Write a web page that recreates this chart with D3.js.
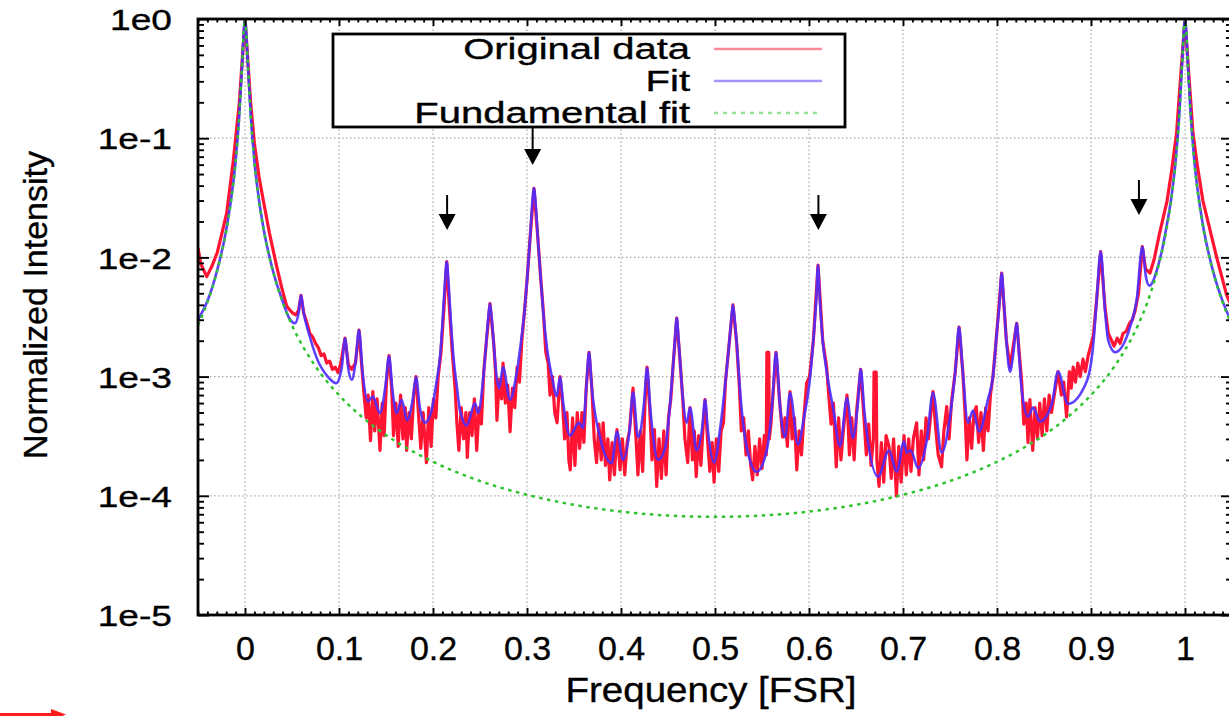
<!DOCTYPE html>
<meta charset="utf-8">
<head>
<title>FSR spectrum fit</title>
<script src="https://cdn.jsdelivr.net/npm/d3@7"></script>
<style>
body { margin: 0; background: #fff; }
text { font-family: "Liberation Sans", Arial, Helvetica, sans-serif; fill: #000; stroke: #000; stroke-width: 0.35; }
</style>
</head>
<body>

<div id="chart"></div>

<script>

const width = 1229;
const height = 716;
const plotLeft = 198, plotRight = 1232, plotTop = 19, plotBottom = 615;

// axis ticks
const xTickValues = [0, 0.1, 0.2, 0.3, 0.4, 0.5, 0.6, 0.7, 0.8, 0.9, 1];
const xTickLabels = ["0", "0.1", "0.2", "0.3", "0.4", "0.5", "0.6", "0.7", "0.8", "0.9", "1"];
const yTickValues = [1e-5, 1e-4, 1e-3, 1e-2, 1e-1, 1];
const yTickLabels = ["1e-5", "1e-4", "1e-3", "1e-2", "1e-1", "1e0"];

const seriesNames = ["Original data", "Fit", "Fundamental fit"];
const seriesColors = ["#ff1432", "#4b2cff", "#2fc42f"];

// [frequency (FSR), normalized intensity]
const originalData = [
  [-0.05, 0.012], [-0.047, 8.8e-3], [-0.0407, 6.9e-3], [-0.035, 8.5e-3], [-0.0295, 0.011],
  [-0.0245, 0.016], [-0.0195, 0.0235], [-0.0124, 0.065], [-0.006, 0.2], [-0.003, 0.45],
  [0, 1.0], [0.003, 0.45], [0.006, 0.2], [0.01, 0.09], [0.015, 0.047], [0.0195, 0.030],
  [0.026, 0.016], [0.0337, 8.4e-3], [0.039, 5.6e-3], [0.0443, 3.9e-3], [0.048, 3.6e-3],
  [0.051, 3.4e-3], [0.054, 3.3e-3], [0.057, 3.6e-3], [0.0596, 4.8e-3], [0.0625, 3.4e-3],
  [0.066, 2.8e-3], [0.069, 2.3e-3], [0.072, 2.15e-3], [0.075, 1.9e-3], [0.078, 1.75e-3],
  [0.081, 1.5e-3], [0.084, 1.55e-3], [0.087, 1.3e-3], [0.09, 1.35e-3], [0.093, 1.15e-3],
  [0.096, 1.2e-3], [0.099, 1.08e-3], [0.102, 1.3e-3], [0.1064, 2.1e-3], [0.11, 1.25e-3],
  [0.1135, 1.15e-3], [0.1175, 1.3e-3], [0.1213, 2.45e-3], [0.1245, 1.15e-3],
  [0.1265, 7.3e-4], [0.129, 4.5e-4], [0.131, 7.0e-4], [0.1335, 2.9e-4], [0.136, 7.5e-4],
  [0.138, 3.5e-4], [0.1405, 6.5e-4], [0.1436, 2.4e-4], [0.146, 6.0e-4], [0.148, 3.2e-4],
  [0.1505, 9.0e-4], [0.1532, 1.5e-3], [0.156, 8.0e-4], [0.158, 3.2e-4], [0.1605, 6.0e-4],
  [0.163, 2.6e-4], [0.1655, 7.0e-4], [0.168, 3.0e-4], [0.1705, 5.5e-4], [0.172, 2.4e-4],
  [0.1745, 5.0e-4], [0.177, 3.0e-4], [0.1795, 7.0e-4], [0.1819, 1.0e-3], [0.1845, 5.0e-4],
  [0.187, 2.5e-4], [0.1895, 5.0e-4], [0.193, 1.9e-4], [0.1955, 5.5e-4], [0.198, 2.6e-4],
  [0.2005, 6.5e-4], [0.203, 4.5e-4], [0.2055, 1.0e-3], [0.2085, 1.6e-3], [0.2115, 3.6e-3],
  [0.2146, 9.2e-3], [0.2176, 3.6e-3], [0.2205, 1.6e-3], [0.2235, 8.0e-4],
  [0.2255, 4.0e-4], [0.2275, 2.4e-4], [0.23, 5.5e-4], [0.2325, 3.0e-4], [0.235, 5.0e-4],
  [0.2365, 2.1e-4], [0.239, 5.0e-4], [0.2415, 3.2e-4], [0.244, 6.5e-4], [0.2465, 2.4e-4],
  [0.249, 5.5e-4], [0.2515, 4.0e-4], [0.254, 1.1e-3], [0.2566, 1.9e-3], [0.2606, 4.1e-3],
  [0.2646, 1.9e-3], [0.2665, 1.1e-3], [0.268, 4.3e-4], [0.2705, 9.5e-4], [0.273, 6.5e-4],
  [0.2745, 1.3e-3], [0.277, 6.0e-4], [0.2795, 8.5e-4], [0.282, 3.45e-4], [0.2845, 8.0e-4],
  [0.287, 5.5e-4], [0.2895, 1.2e-3], [0.292, 9.0e-4], [0.2945, 2.0e-3], [0.2974, 3.6e-3],
  [0.3004, 7.0e-3], [0.3034, 0.015], [0.3074, 0.038], [0.3114, 0.015], [0.3144, 7.0e-3],
  [0.3174, 3.5e-3], [0.32, 1.6e-3], [0.3225, 1.3e-3],
  [0.3245, 7.0e-4], [0.327, 1.0e-3], [0.3295, 5.0e-4], [0.332, 4.1e-4], [0.3351, 1.0e-3],
  [0.3375, 6.5e-4], [0.34, 3.0e-4], [0.3425, 5.0e-4], [0.3445, 2.0e-4], [0.346, 1.65e-4],
  [0.3485, 4.5e-4], [0.351, 1.8e-4], [0.3535, 5.0e-4], [0.356, 2.5e-4], [0.3585, 5.0e-4],
  [0.3605, 2.8e-4], [0.363, 8.0e-4], [0.366, 1.6e-3], [0.369, 8.0e-4],
  [0.3715, 3.0e-4], [0.374, 1.9e-4], [0.3765, 4.0e-4], [0.379, 2.0e-4], [0.381, 4.1e-4],
  [0.3835, 1.8e-4], [0.386, 3.0e-4], [0.388, 1.36e-4], [0.3905, 2.8e-4], [0.393, 1.5e-4],
  [0.3957, 3.6e-4], [0.399, 1.65e-4], [0.4015, 3.0e-4], [0.404, 1.5e-4], [0.4065, 2.8e-4],
  [0.409, 3.5e-4], [0.4128, 8.0e-4], [0.416, 3.0e-4], [0.418, 1.5e-4], [0.4205, 3.5e-4],
  [0.423, 1.6e-4], [0.4255, 6.0e-4], [0.4277, 1.2e-3], [0.4305, 5.5e-4], [0.433, 2.0e-4],
  [0.4355, 3.6e-4], [0.438, 1.2e-4], [0.4405, 3.0e-4], [0.443, 1.4e-4], [0.4455, 3.5e-4],
  [0.448, 1.5e-4], [0.4505, 4.5e-4], [0.453, 6.5e-4], [0.4553, 1.2e-3], [0.4593, 3.1e-3],
  [0.4633, 1.2e-3], [0.466, 6.0e-4],
  [0.468, 3.0e-4], [0.471, 1.9e-4], [0.4734, 5.5e-4], [0.476, 2.0e-4], [0.478, 3.5e-4],
  [0.48, 1.45e-4], [0.4825, 3.2e-4], [0.485, 1.8e-4], [0.4875, 4.0e-4], [0.4894, 6.4e-4],
  [0.492, 3.0e-4], [0.4945, 1.6e-4], [0.497, 2.8e-4], [0.499, 1.3e-4],
  [0.5015, 3.0e-4], [0.504, 1.6e-4], [0.5065, 3.5e-4], [0.509, 4.1e-4], [0.5111, 9.0e-4],
  [0.5151, 1.9e-3], [0.5191, 4.0e-3], [0.5231, 1.9e-3], [0.526, 8.0e-4], [0.528, 3.5e-4],
  [0.5305, 4.5e-4], [0.533, 2.2e-4], [0.5355, 3.5e-4], [0.538, 1.8e-4], [0.54, 1.36e-4],
  [0.5425, 2.6e-4], [0.545, 1.5e-4], [0.5475, 3.0e-4], [0.55, 1.7e-4], [0.5525, 3.2e-4],
  [0.5545, 2.2e-4], [0.5552, 1.6e-3], [0.5572, 1.6e-3], [0.5578, 3.0e-4], [0.5595, 4.0e-4],
  [0.5649, 1.6e-3], [0.5689, 6.0e-4],
  [0.572, 3.1e-4], [0.5745, 4.5e-4], [0.577, 2.6e-4], [0.5798, 7.5e-4], [0.582, 3.0e-4],
  [0.5845, 4.5e-4], [0.587, 1.65e-4], [0.5895, 3.5e-4], [0.592, 2.2e-4], [0.5945, 4.5e-4],
  [0.5975, 8.8e-4], [0.6006, 1.0e-3], [0.6046, 2.0e-3], [0.6096, 8.6e-3], [0.6146, 2.0e-3],
  [0.6188, 1.2e-3], [0.621, 7.0e-4],
  [0.6235, 4.0e-4], [0.626, 6.0e-4], [0.629, 1.75e-4], [0.6315, 4.5e-4], [0.634, 2.0e-4],
  [0.6365, 3.5e-4], [0.6404, 7.0e-4], [0.643, 2.2e-4], [0.6455, 4.5e-4], [0.648, 2.0e-4],
  [0.6505, 5.0e-4], [0.655, 1.15e-3], [0.6585, 4.5e-4], [0.661, 2.2e-4], [0.6635, 4.0e-4],
  [0.666, 1.8e-4],
  [0.6685, 3.0e-4], [0.6692, 1.09e-3], [0.6715, 1.09e-3], [0.6722, 2.0e-4], [0.6745, 1.2e-4],
  [0.677, 2.8e-4], [0.6795, 1.3e-4], [0.682, 3.2e-4], [0.6851, 2.6e-4], [0.6875, 1.4e-4],
  [0.69, 3.0e-4], [0.693, 1.0e-4], [0.6955, 2.6e-4], [0.698, 1.3e-4], [0.7011, 3.2e-4],
  [0.7035, 1.5e-4], [0.706, 3.0e-4], [0.7085, 1.6e-4], [0.711, 3.0e-4], [0.7145, 4.1e-4],
  [0.717, 1.5e-4], [0.7195, 3.5e-4], [0.722, 2.0e-4], [0.7245, 4.5e-4], [0.727, 3.0e-4],
  [0.7319, 7.5e-4], [0.735, 3.5e-4],
  [0.7375, 2.2e-4], [0.741, 1.75e-4], [0.7435, 3.5e-4], [0.7465, 5.6e-4], [0.749, 3.0e-4],
  [0.7515, 6.0e-4], [0.7556, 1.1e-3], [0.7596, 2.6e-3], [0.7636, 1.1e-3], [0.766, 5.0e-4],
  [0.768, 2.0e-4], [0.7705, 4.5e-4], [0.773, 2.5e-4], [0.7755, 5.0e-4], [0.778, 5.6e-4],
  [0.7805, 2.8e-4], [0.783, 5.0e-4], [0.7855, 2.4e-4], [0.788, 5.5e-4], [0.7905, 3.5e-4],
  [0.793, 7.0e-4], [0.7957, 1.0e-3], [0.7997, 2.3e-3], [0.805, 7.4e-3], [0.81, 2.0e-3],
  [0.8138, 1.2e-3], [0.821, 2.8e-3], [0.8263, 9.0e-4],
  [0.8285, 4.0e-4], [0.831, 6.0e-4], [0.833, 2.8e-4], [0.835, 6.4e-4], [0.838, 2.4e-4],
  [0.8405, 5.5e-4], [0.843, 3.0e-4], [0.8455, 6.0e-4], [0.848, 3.2e-4], [0.8505, 6.5e-4],
  [0.853, 3.5e-4], [0.8555, 7.0e-4], [0.858, 5.0e-4], [0.8649, 1.1e-3],
  [0.8685, 7.0e-4], [0.871, 9.0e-4], [0.874, 4.6e-4], [0.877, 1.1e-3], [0.879, 8.0e-4],
  [0.881, 1.2e-3], [0.8835, 9.0e-4], [0.886, 1.3e-3], [0.8885, 1.0e-3], [0.8915, 1.4e-3],
  [0.894, 1.1e-3], [0.897, 1.5e-3], [0.9025, 2.2e-3], [0.906, 4.4e-3], [0.9103, 1.12e-2],
  [0.9149, 3.8e-3], [0.9184, 2.3e-3],
  [0.922, 2.0e-3], [0.9245, 1.8e-3], [0.928, 2.1e-3], [0.931, 1.9e-3], [0.934, 2.3e-3],
  [0.9375, 2.4e-3], [0.941, 2.8e-3], [0.944, 3.0e-3], [0.947, 3.6e-3], [0.9505, 5.0e-3],
  [0.9546, 1.23e-2], [0.958, 8.0e-3], [0.9628, 7.4e-3], [0.967, 9.5e-3], [0.973, 0.016],
  [0.981, 0.030], [0.986, 0.055], [0.991, 0.11], [0.995, 0.3], [1.0, 1.0], [1.004, 0.35],
  [1.0085, 0.11], [1.013, 0.06], [1.019, 0.03], [1.0266, 0.017], [1.0337, 0.01],
  [1.0444, 4.8e-3], [1.05, 3.8e-3]
];

const fitData = [
  [-0.05, 3.0e-3], [-0.04, 4.3e-3], [-0.03, 7.6e-3], [-0.02, 0.017], [-0.015, 0.03],
  [-0.01, 0.064], [-0.006, 0.16], [-0.003, 0.42], [0, 1.0], [0.003, 0.42], [0.006, 0.16],
  [0.01, 0.064], [0.015, 0.03], [0.02, 0.017], [0.03, 7.6e-3], [0.04, 4.3e-3],
  [0.047, 3.1e-3], [0.053, 2.8e-3], [0.057, 3.4e-3], [0.0596, 4.8e-3], [0.0625, 3.4e-3],
  [0.068, 2.3e-3], [0.076, 1.45e-3], [0.088, 1.0e-3], [0.097, 8.8e-4], [0.103, 1.2e-3],
  [0.1064, 2.1e-3], [0.11, 1.15e-3], [0.1135, 9.4e-4], [0.1175, 1.3e-3], [0.1213, 2.46e-3],
  [0.125, 1.1e-3], [0.1309, 6.2e-4], [0.1359, 6.8e-4], [0.1436, 4.95e-4], [0.1495, 8.5e-4],
  [0.1532, 1.49e-3], [0.157, 7.5e-4], [0.1614, 4.95e-4], [0.1667, 6.4e-4], [0.1723, 4.3e-4],
  [0.1785, 6.5e-4], [0.1819, 9.9e-4], [0.186, 5.5e-4], [0.1915, 4.1e-4], [0.1985, 5.2e-4],
  [0.2035, 8.8e-4], [0.2076, 1.5e-3], [0.2106, 3.3e-3], [0.2126, 6.0e-3], [0.2146, 9.2e-3],
  [0.2166, 6.0e-3], [0.2186, 3.3e-3], [0.2216, 1.5e-3], [0.2256, 8.0e-4], [0.2287, 5.2e-4],
  [0.2359, 3.9e-4], [0.2447, 6.0e-4], [0.2479, 4.95e-4], [0.2536, 1.0e-3], [0.2566, 1.9e-3],
  [0.2586, 3.0e-3], [0.2606, 4.1e-3], [0.2626, 3.0e-3], [0.2646, 1.9e-3], [0.2676, 1.0e-3],
  [0.2705, 8.0e-4], [0.2745, 1.2e-3], [0.2819, 6.4e-4], [0.2884, 1.0e-3], [0.2934, 1.9e-3],
  [0.2974, 3.6e-3], [0.3004, 7.0e-3], [0.3034, 0.015], [0.3054, 0.027], [0.3074, 0.038],
  [0.3094, 0.027], [0.3114, 0.015], [0.3144, 7.0e-3], [0.3174, 3.4e-3], [0.3214, 1.7e-3],
  [0.327, 9.5e-4], [0.3316, 6.8e-4], [0.3351, 9.9e-4], [0.3385, 6.0e-4], [0.3457, 3.2e-4],
  [0.3553, 4.1e-4], [0.3596, 3.7e-4], [0.363, 8.0e-4], [0.366, 1.6e-3], [0.369, 8.0e-4],
  [0.3777, 3.1e-4], [0.3901, 1.88e-4], [0.3957, 3.45e-4], [0.4021, 2.0e-4], [0.4095, 3.8e-4],
  [0.4128, 7.4e-4], [0.4181, 3.1e-4], [0.4245, 6.0e-4], [0.4277, 1.18e-3], [0.4315, 5.0e-4],
  [0.4394, 2.0e-4], [0.4468, 2.5e-4], [0.4523, 6.0e-4], [0.4553, 1.2e-3], [0.4573, 2.0e-3],
  [0.4593, 3.1e-3], [0.4613, 2.0e-3], [0.4633, 1.2e-3], [0.4663, 6.0e-4], [0.4699, 4.1e-4],
  [0.4734, 5.5e-4], [0.4805, 2.4e-4], [0.4865, 3.8e-4], [0.4894, 6.4e-4], [0.4925, 3.5e-4],
  [0.4989, 1.9e-4], [0.5061, 4.0e-4], [0.5111, 9.0e-4], [0.5151, 1.9e-3], [0.5171, 2.9e-3],
  [0.5191, 4.0e-3], [0.5211, 2.9e-3], [0.5231, 1.9e-3], [0.527, 7.0e-4], [0.534, 2.5e-4],
  [0.5444, 1.59e-4], [0.555, 2.4e-4], [0.5609, 6.0e-4], [0.5649, 1.6e-3], [0.5689, 6.0e-4],
  [0.5745, 3.1e-4], [0.5798, 7.3e-4], [0.5883, 2.7e-4], [0.5946, 4.5e-4], [0.6006, 9.0e-4],
  [0.6046, 2.0e-3], [0.6076, 4.3e-3], [0.6096, 8.6e-3], [0.6116, 4.3e-3], [0.6146, 2.0e-3],
  [0.6188, 1.1e-3], [0.6255, 5.5e-4], [0.633, 2.6e-4], [0.6404, 6.6e-4], [0.6468, 3.05e-4],
  [0.652, 6.0e-4], [0.655, 1.15e-3], [0.659, 5.0e-4], [0.6734, 1.45e-4], [0.6851, 2.4e-4],
  [0.6933, 1.59e-4], [0.7011, 2.85e-4], [0.7039, 2.3e-4], [0.7082, 2.4e-4], [0.716, 1.71e-4],
  [0.7255, 3.0e-4], [0.7319, 7.3e-4], [0.7412, 2.3e-4], [0.7506, 5.0e-4], [0.7556, 1.1e-3],
  [0.7596, 2.6e-3], [0.7636, 1.1e-3], [0.7691, 4.1e-4], [0.7745, 5.2e-4], [0.7808, 3.45e-4],
  [0.7905, 6.5e-4], [0.7957, 1.0e-3], [0.7997, 2.3e-3], [0.8025, 4.0e-3], [0.805, 7.4e-3],
  [0.8075, 4.0e-3], [0.81, 2.0e-3], [0.8138, 1.1e-3], [0.8175, 1.6e-3], [0.821, 2.8e-3],
  [0.8235, 1.5e-3], [0.8263, 7.7e-4], [0.833, 4.6e-4], [0.8383, 5.5e-4], [0.8457, 4.2e-4],
  [0.8585, 6.0e-4], [0.8649, 1.1e-3], [0.8755, 5.9e-4], [0.8954, 9.1e-4], [0.9025, 1.9e-3],
  [0.906, 4.4e-3], [0.9103, 1.12e-2], [0.9149, 3.6e-3], [0.9184, 2.0e-3], [0.9255, 1.6e-3],
  [0.9415, 2.6e-3], [0.9486, 4.4e-3], [0.9546, 1.23e-2], [0.9585, 6.8e-3], [0.962, 5.8e-3],
  [0.966, 6.3e-3], [0.97, 7.8e-3], [0.975, 0.011], [0.98, 0.0175], [0.985, 0.03],
  [0.99, 0.064], [0.994, 0.16], [0.997, 0.43], [1.0, 1.0], [1.003, 0.42], [1.006, 0.16],
  [1.01, 0.064], [1.015, 0.03], [1.02, 0.017], [1.03, 7.6e-3], [1.04, 4.3e-3], [1.05, 2.8e-3]
];

const fundamentalFit = [
  [-0.05, 2.7e-3], [-0.04, 4.2e-3], [-0.03, 7.5e-3], [-0.02, 0.0166], [-0.015, 0.029],
  [-0.01, 0.063], [-0.006, 0.158], [-0.003, 0.43], [0, 1.0], [0.003, 0.43], [0.006, 0.158],
  [0.01, 0.063], [0.015, 0.029], [0.02, 0.0166], [0.03, 7.5e-3], [0.04, 4.2e-3],
  [0.05, 2.7e-3], [0.075, 1.22e-3], [0.1, 7.0e-4], [0.125, 4.55e-4], [0.15, 3.23e-4],
  [0.175, 2.44e-4], [0.2, 1.93e-4], [0.25, 1.33e-4], [0.3, 1.02e-4], [0.35, 8.4e-5],
  [0.4, 7.37e-5], [0.45, 6.83e-5], [0.5, 6.67e-5], [0.55, 6.83e-5], [0.6, 7.37e-5],
  [0.65, 8.4e-5], [0.7, 1.02e-4], [0.75, 1.33e-4], [0.8, 1.93e-4], [0.825, 2.44e-4],
  [0.85, 3.23e-4], [0.875, 4.55e-4], [0.9, 7.0e-4], [0.925, 1.22e-3], [0.95, 2.7e-3],
  [0.96, 4.2e-3], [0.97, 7.5e-3], [0.98, 0.0166], [0.985, 0.029], [0.99, 0.063],
  [0.994, 0.158], [0.997, 0.43], [1.0, 1.0], [1.003, 0.43], [1.006, 0.158], [1.01, 0.063],
  [1.015, 0.029], [1.02, 0.0166], [1.03, 7.5e-3], [1.04, 4.2e-3], [1.05, 2.7e-3]
];

// marked peaks: frequency, arrow tail and tip intensity
const arrowFreq = [0.215, 0.306, 0.61, 0.951];
const arrowTail = [0.0334, 0.122, 0.0334, 0.0446];
const arrowTip = [0.017, 0.0596, 0.017, 0.0227];


const svg = d3.select("#chart")
  .append("svg")
  .attr("width", width)
  .attr("height", height)
  .attr("viewBox", [0, 0, width, height])
  .style("display", "block");

svg.append("rect").attr("width", width).attr("height", height).attr("fill", "#fff");

const x = d3.scaleLinear().domain([-0.05, 1.05]).range([plotLeft, plotRight]);
const y = d3.scaleLog().domain([1e-5, 1]).range([plotBottom, plotTop]);

svg.append("clipPath").attr("id", "plotclip")
  .append("rect")
  .attr("x", plotLeft).attr("y", plotTop)
  .attr("width", plotRight - plotLeft).attr("height", plotBottom - plotTop);

// grid
const gridX = svg.append("g")
  .attr("stroke", "#a9a9a9").attr("stroke-width", 1.2).attr("stroke-dasharray", "1.5,2.5");
gridX.selectAll("line")
  .data(xTickValues)
  .join("line")
    .attr("x1", d => x(d)).attr("x2", d => x(d))
    .attr("y1", plotBottom).attr("y2", plotTop);

const gridY = svg.append("g")
  .attr("stroke", "#a9a9a9").attr("stroke-width", 1.2).attr("stroke-dasharray", "1.5,2.5");
gridY.selectAll("line")
  .data(yTickValues.slice(1, -1))
  .join("line")
    .attr("x1", plotLeft).attr("x2", plotRight)
    .attr("y1", d => y(d)).attr("y2", d => y(d));

// curves
const rawLine = d3.line().x(d => x(d[0])).y(d => y(d[1]));
const smoothLine = d3.line().x(d => x(d[0])).y(d => y(d[1])).curve(d3.curveMonotoneX);

const curves = svg.append("g").attr("clip-path", "url(#plotclip)").attr("fill", "none");

curves.append("path")
  .datum(originalData)
  .attr("d", rawLine)
  .attr("stroke", seriesColors[0])
  .attr("stroke-width", 3.2)
  .attr("stroke-linejoin", "round");

curves.append("path")
  .datum(fitData)
  .attr("d", smoothLine)
  .attr("stroke", seriesColors[1])
  .attr("stroke-opacity", 0.9)
  .attr("stroke-width", 2.6);

curves.append("path")
  .datum(fundamentalFit)
  .attr("d", smoothLine)
  .attr("stroke", seriesColors[2])
  .attr("stroke-width", 2.5)
  .attr("stroke-dasharray", "3.5,4.5");

// axes, ticks pointing inward
const xMinor = x.ticks(110).filter(t => !xTickValues.some(v => Math.abs(v - t) < 1e-6));
const yMinor = y.ticks().filter(t => !yTickValues.some(v => Math.abs(v - t) / v < 1e-6));

function cleanAxis(g) {
  g.select(".domain").remove();
  g.attr("font-size", null).attr("font-family", null);
  g.selectAll("line").attr("stroke", "#000").attr("stroke-width", 1.9);
}

svg.append("g")
  .attr("transform", `translate(0,${plotBottom})`)
  .call(d3.axisBottom(x).tickValues(xTickValues).tickSizeInner(-7).tickSizeOuter(0)
    .tickPadding(21).tickFormat(d => xTickLabels[xTickValues.indexOf(d)]))
  .call(cleanAxis)
  .call(g => g.selectAll("text").attr("font-size", 34));

svg.append("g")
  .attr("transform", `translate(0,${plotBottom})`)
  .call(d3.axisBottom(x).tickValues(xMinor).tickSizeInner(-3.5).tickSizeOuter(0).tickFormat(() => ""))
  .call(cleanAxis);

svg.append("g")
  .attr("transform", `translate(0,${plotTop})`)
  .call(d3.axisTop(x).tickValues(xTickValues).tickSizeInner(-7).tickSizeOuter(0).tickFormat(() => ""))
  .call(cleanAxis);

svg.append("g")
  .attr("transform", `translate(0,${plotTop})`)
  .call(d3.axisTop(x).tickValues(xMinor).tickSizeInner(-3.5).tickSizeOuter(0).tickFormat(() => ""))
  .call(cleanAxis);

svg.append("g")
  .attr("transform", `translate(${plotLeft},0)`)
  .call(d3.axisLeft(y).tickValues(yTickValues).tickSizeInner(-11).tickSizeOuter(0)
    .tickFormat(d => yTickLabels[yTickValues.indexOf(d)]))
  .call(cleanAxis)
  .call(g => g.selectAll("text")
    .attr("x", 0)
    .attr("dy", "0.37em")
    .attr("font-size", 29)
    .attr("text-anchor", "end")
    .attr("transform", "translate(-26,0) scale(1.28,1)"));

svg.append("g")
  .attr("transform", `translate(${plotLeft},0)`)
  .call(d3.axisLeft(y).tickValues(yMinor).tickSizeInner(-6).tickSizeOuter(0).tickFormat(() => ""))
  .call(cleanAxis);

svg.append("g")
  .attr("transform", `translate(${plotRight},0)`)
  .call(d3.axisRight(y).tickValues(yTickValues).tickSizeInner(-11).tickSizeOuter(0).tickFormat(() => ""))
  .call(cleanAxis);

svg.append("g")
  .attr("transform", `translate(${plotRight},0)`)
  .call(d3.axisRight(y).tickValues(yMinor).tickSizeInner(-6).tickSizeOuter(0).tickFormat(() => ""))
  .call(cleanAxis);

// frame
svg.append("rect")
  .attr("x", plotLeft).attr("y", plotTop)
  .attr("width", plotRight - plotLeft).attr("height", plotBottom - plotTop)
  .attr("fill", "none").attr("stroke", "#000").attr("stroke-width", 2.8);

// axis titles
svg.append("text")
  .attr("transform", "translate(711,702) scale(1.1,1)")
  .attr("text-anchor", "middle")
  .attr("font-size", 35)
  .text("Frequency [FSR]");

svg.append("text")
  .attr("transform", "translate(47,305) rotate(-90)")
  .attr("text-anchor", "middle")
  .attr("font-size", 34)
  .text("Normalized Intensity");

// legend
const legend = svg.append("g");
legend.append("rect")
  .attr("x", 333).attr("y", 34).attr("width", 512).attr("height", 93)
  .attr("fill", "#fff").attr("stroke", "#000").attr("stroke-width", 2.8);

const rows = legend.selectAll("g.row")
  .data(seriesNames)
  .join("g")
    .attr("class", "row")
    .attr("transform", (d, i) => `translate(0,${49 + i * 32})`);

rows.append("text")
  .attr("transform", "translate(690,10) scale(1.38,1)")
  .attr("text-anchor", "end")
  .attr("font-size", 29)
  .text(d => d);

rows.append("line")
  .attr("x1", 714).attr("x2", 822)
  .attr("stroke", (d, i) => seriesColors[i])
  .attr("stroke-opacity", 0.5)
  .attr("stroke-width", 2.6)
  .attr("stroke-dasharray", (d, i) => i === 2 ? "4,5" : null);

// peak markers
const arrows = svg.append("g")
  .selectAll("g")
  .data(arrowFreq)
  .join("g");

arrows.append("line")
  .attr("x1", d => x(d)).attr("x2", d => x(d))
  .attr("y1", (d, i) => y(arrowTail[i]))
  .attr("y2", (d, i) => y(arrowTip[i]) - 12)
  .attr("stroke", "#000").attr("stroke-width", 2);

arrows.append("path")
  .attr("d", (d, i) => {
    const px = x(d), py = y(arrowTip[i]);
    return `M${px - 8.5},${py - 16}L${px + 8.5},${py - 16}L${px},${py}Z`;
  })
  .attr("fill", "#000");

// red pointer cut at the bottom-left edge
svg.append("line")
  .attr("x1", -5).attr("x2", 54).attr("y1", 714.5).attr("y2", 714.5)
  .attr("stroke", "#ff1a1a").attr("stroke-width", 3);
svg.append("path")
  .attr("d", "M51,709L66,714.5L51,720Z")
  .attr("fill", "#ff1a1a");

</script>

</body>
